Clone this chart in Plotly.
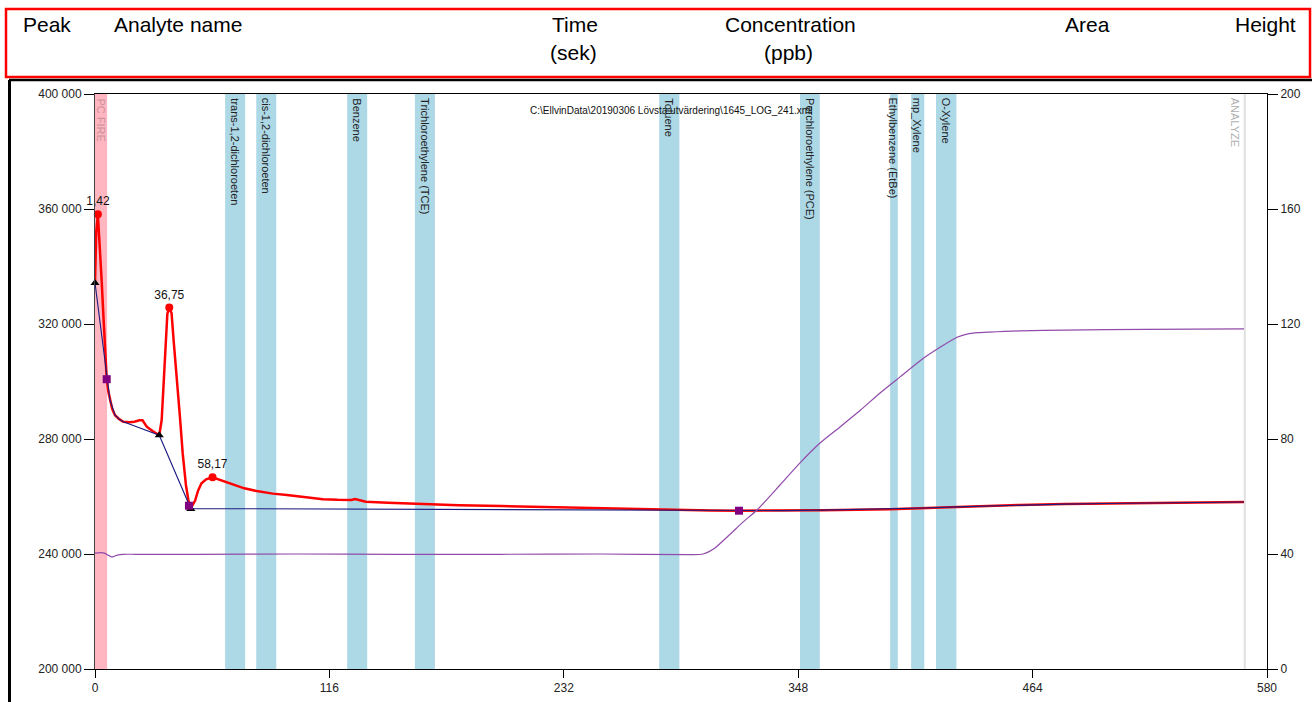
import plotly.graph_objects as go

# ---------------- data ----------------
signal_t = [0, 0.6, 1.42, 2.5, 3.3, 4.1, 5.0, 5.8, 6.6, 7.4, 8.5, 9.9, 12.0, 14.0, 17.0, 19.5,
            22.0, 23.5, 25.6, 28.5, 31.8, 33.0, 34.0, 35.0, 35.8, 36.75, 37.9, 39.0, 40.4, 42.0,
            43.4, 45.0, 46.5, 47.9, 49.5, 51.0, 52.7, 55.0, 58.17, 61, 65, 70, 73.9, 80, 88, 95,
            104, 112.8, 120, 126.9, 128.7, 131, 134, 145, 155, 165.8, 180, 201, 220, 236.5, 255,
            271.7, 290, 305, 318.7, 340, 360, 393.4, 410, 426.6, 440, 457.8, 480, 500, 530, 568.6]
signal_v = [334300, 352000, 358200, 346900, 335000, 323700, 311500, 300800, 296500, 293600,
            290500, 288300, 286900, 286000, 285800, 286000, 286500, 286500, 284300, 282800,
            281300, 286600, 300000, 317000, 323500, 325700, 323700, 313500, 302900, 288000,
            275000, 264000, 257500, 256500, 258500, 262000, 264600, 266000, 266700, 266000,
            265000, 263800, 262850, 261900, 261000, 260500, 259700, 259050, 258850, 258800,
            259150, 258700, 258200, 257800, 257550, 257300, 257000, 256700, 256400, 256100,
            255800, 255550, 255300, 255150, 255060, 255100, 255250, 255600, 256000, 256400,
            256700, 257050, 257350, 257550, 257800, 258100]

baseline_t = [0, 5.8, 7.4, 9.9, 12.0, 14.0, 31.8, 47.4, 318.7, 340, 360, 393.4, 410, 426.6,
              440, 457.8, 480, 500, 530, 568.6]
baseline_v = [334300, 300800, 293600, 288300, 286900, 286000, 281300, 255800, 255060, 255100,
              255250, 255600, 256000, 256400, 256700, 257050, 257350, 257550, 257800, 258100]

detector_t = [0, 3, 5, 6.5, 8, 9.5, 11, 14, 20, 50, 100, 150, 200, 250, 294.5, 300.9, 306.8,
              314.2, 320.5, 327.6, 339.0, 348.9, 358.8, 368.7, 378.6, 388.5, 398.4, 409.8,
              418.2, 426.6, 431.5, 437, 442.9, 450, 457.8, 480, 520, 568.6]
detector_v = [40.3, 40.5, 40.2, 39.6, 39.0, 39.2, 39.6, 39.9, 39.9, 39.9, 40.0, 39.9, 39.9, 40.0,
              39.8, 40.0, 42.1, 46.8, 51.0, 55.3, 64.0, 71.7, 78.6, 84.2, 89.9, 96.0, 101.6,
              108.0, 111.9, 115.4, 116.5, 117.0, 117.2, 117.4, 117.6, 117.9, 118.1, 118.3]

peak_t = [1.42, 36.75, 58.17]
peak_v = [358200, 325700, 266700]
peak_labels = ["1,42", "36,75", "58,17"]

start_t = [0, 31.8, 47.4]
start_v = [334300, 281300, 255650]
end_t = [5.8, 46.5, 318.7]
end_v = [300800, 256800, 255060]

band_names = ["trans-1,2-dichloroeten", "cis-1,2-dichloroeten", "Benzene",
              "Trichloroethylene (TCE)", "Toluene", "Perchloroethylene (PCE)",
              "Ethylbenzene (EtBe)", "mp_Xylene", "O-Xylene"]
band_start = [64.4, 79.8, 124.8, 158.3, 279.2, 348.9, 393.5, 403.9, 416.2]
band_end = [74.3, 89.7, 134.7, 168.2, 289.2, 358.7, 397.3, 410.4, 426.3]

pcfire_start, pcfire_end = 0, 6
analyze_t = 569

x_ticks = [0, 116, 232, 348, 464, 580]
y_ticks = [200000, 240000, 280000, 320000, 360000, 400000]
y2_ticks = [0, 40, 80, 120, 160, 200]

header_row1 = ["Peak", "Analyte name", "Time", "Concentration", "Area", "Height"]
header_row2 = ["", "", "(sek)", "(ppb)", "", ""]
file_label = "C:\\EllvinData\\20190306 Lövsta utvärdering\\1645_LOG_241.xml"

# ---------------- layout geometry ----------------
W, H = 1312, 702
ML, MR, MT, MB = 95, 45, 94, 33
PW, PH = W - ML - MR, H - MT - MB


def px(x):
    return (x - ML) / PW


def py(y):
    return (H - MB - y) / PH


FONT = "Liberation Sans, Arial, sans-serif"

fig = go.Figure()

fig.add_trace(go.Scatter(x=detector_t, y=detector_v, yaxis="y2", mode="lines",
                         line=dict(color="rgb(145,75,170)", width=1.2, shape="spline",
                                   smoothing=0.6), hoverinfo="skip"))
fig.add_trace(go.Scatter(x=signal_t, y=signal_v, mode="lines",
                         line=dict(color="#ff0000", width=2.5), hoverinfo="skip"))
fig.add_trace(go.Scatter(x=baseline_t, y=baseline_v, mode="lines",
                         line=dict(color="#1c1c80", width=1.1), hoverinfo="skip"))
fig.add_trace(go.Scatter(x=peak_t, y=peak_v, mode="markers+text", text=peak_labels,
                         textposition="top center",
                         textfont=dict(family=FONT, size=12, color="#111"),
                         marker=dict(color="#ff0000", size=8, symbol="circle"),
                         cliponaxis=False, hoverinfo="skip"))
fig.add_trace(go.Scatter(x=start_t, y=start_v, mode="markers",
                         marker=dict(color="black", size=8, symbol="triangle-up"),
                         cliponaxis=False, hoverinfo="skip"))
fig.add_trace(go.Scatter(x=end_t, y=end_v, mode="markers",
                         marker=dict(color="#800080", size=8, symbol="square"),
                         cliponaxis=False, hoverinfo="skip"))

shapes = []
annotations = []

# PC FIRE band
shapes.append(dict(type="rect", xref="x", yref="paper", x0=pcfire_start, x1=pcfire_end,
                   y0=0, y1=1, fillcolor="#ffb6c1", line=dict(width=0), layer="below"))
annotations.append(dict(x=(pcfire_start + pcfire_end) / 2, y=1, xref="x", yref="paper",
                        text="PC FIRE", textangle=90, showarrow=False, yanchor="top",
                        yshift=-2, font=dict(family=FONT, size=11, color="#c8909a")))

for name, s, e in zip(band_names, band_start, band_end):
    shapes.append(dict(type="rect", xref="x", yref="paper", x0=s, x1=e, y0=0, y1=1,
                       fillcolor="#add8e6", line=dict(width=0), layer="below"))
    annotations.append(dict(x=(s + e) / 2, y=1, xref="x", yref="paper", text=name,
                            textangle=90, showarrow=False, yanchor="top", yshift=-2,
                            font=dict(family=FONT, size=11, color="#222")))

# ANALYZE marker line
shapes.append(dict(type="line", xref="x", yref="paper", x0=analyze_t, x1=analyze_t, y0=0, y1=1,
                   line=dict(color="#e0e0e0", width=2), layer="below"))
annotations.append(dict(x=analyze_t, y=1, xref="x", yref="paper", text="ANALYZE",
                        textangle=90, showarrow=False, yanchor="top", xanchor="right",
                        xshift=-1, yshift=-2, font=dict(family=FONT, size=11, color="#b0b0b0")))

# file name
annotations.append(dict(x=px(528), y=1, xref="paper", yref="paper", text=file_label,
                        showarrow=False, xanchor="left", yanchor="top", yshift=-9,
                        font=dict(family=FONT, size=10, color="#111")))

# header box and frame
shapes.append(dict(type="rect", xref="paper", yref="paper", x0=px(6), x1=px(1310),
                   y0=py(77), y1=py(9), line=dict(color="#ff0000", width=2.5)))
shapes.append(dict(type="line", xref="paper", yref="paper", x0=px(9), x1=px(1312),
                   y0=py(80), y1=py(80), line=dict(color="black", width=2.5)))
shapes.append(dict(type="line", xref="paper", yref="paper", x0=px(9.5), x1=px(9.5),
                   y0=py(80), y1=py(702), line=dict(color="black", width=3)))

header_x = [47, 178, 575, 790, 1087, 1265]
for hx, t1, t2 in zip(header_x, header_row1, header_row2):
    annotations.append(dict(x=px(hx), y=py(25), xref="paper", yref="paper", text=t1,
                            showarrow=False, xanchor="center", yanchor="middle",
                            font=dict(family=FONT, size=21, color="black")))
    if t2:
        annotations.append(dict(x=px(hx - 2), y=py(52), xref="paper", yref="paper", text=t2,
                                showarrow=False, xanchor="center", yanchor="middle",
                                font=dict(family=FONT, size=21, color="black")))

fig.update_layout(
    width=W, height=H,
    margin=dict(l=ML, r=MR, t=MT, b=MB, pad=0, autoexpand=False),
    paper_bgcolor="white", plot_bgcolor="white",
    showlegend=False, hovermode=False,
    separators=", ",
    shapes=shapes, annotations=annotations,
    xaxis=dict(range=[0, 580], tickvals=x_ticks, ticktext=[str(v) for v in x_ticks],
               automargin=False,
               showgrid=False, zeroline=False, showline=True, linecolor="black",
               linewidth=1, mirror=True, ticks="outside", ticklen=8, tickcolor="black",
               tickfont=dict(family=FONT, size=12, color="#222")),
    yaxis=dict(range=[200000, 400000], tickvals=y_ticks, tickformat=",d", automargin=False,
               showgrid=False, zeroline=False, showline=True, linecolor="#444",
               linewidth=1, ticks="outside", ticklen=10, tickcolor="black",
               tickfont=dict(family=FONT, size=12, color="#222")),
    yaxis2=dict(range=[0, 200], tickvals=y2_ticks, overlaying="y", side="right",
                automargin=False,
                showgrid=False, zeroline=False, showline=True, linecolor="black",
                linewidth=1, ticks="outside", ticklen=10, tickcolor="black",
                tickfont=dict(family=FONT, size=12, color="#222")),
)

fig.write_html("out.html")
